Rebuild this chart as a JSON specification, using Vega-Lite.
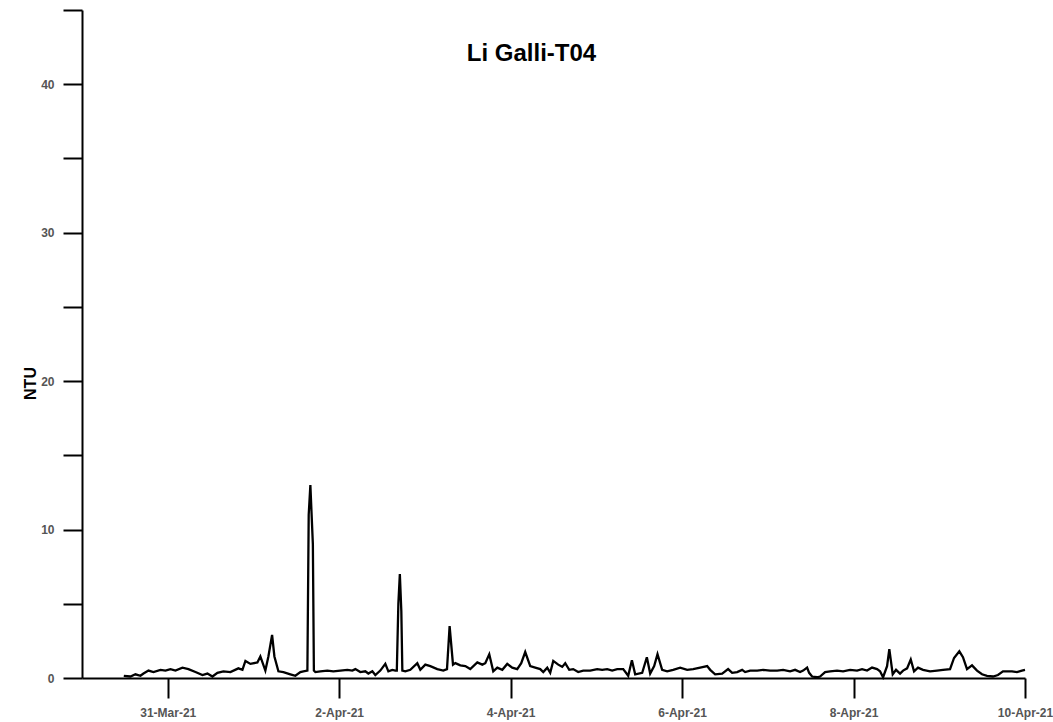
{
  "$schema": "https://vega.github.io/schema/vega-lite/v6.json",
  "width": 943,
  "height": 668,
  "autosize": {"type": "none"},
  "padding": {"left": 82, "top": 10, "right": 28, "bottom": 44},
  "background": "white",
  "config": {"view": {"stroke": null}},
  "title": {"text": "Li Galli-T04", "font": "Liberation Sans", "fontSize": 24, "fontWeight": "bold", "color": "#000", "anchor": "middle", "dx": -22, "baseline": "alphabetic", "offset": -76},
  "data": {"values": [
    {"t":"2021-03-30T11:42:00","v":0.15},{"t":"2021-03-30T13:34:00","v":0.1},{"t":"2021-03-30T14:58:00","v":0.25},{"t":"2021-03-30T16:22:00","v":0.15},{"t":"2021-03-30T17:13:00","v":0.3},{"t":"2021-03-30T18:37:00","v":0.5},{"t":"2021-03-30T20:00:00","v":0.4},{"t":"2021-03-30T21:58:00","v":0.55},{"t":"2021-03-30T23:22:00","v":0.5},
    {"t":"2021-03-31T00:46:00","v":0.6},{"t":"2021-03-31T02:10:00","v":0.5},{"t":"2021-03-31T04:07:00","v":0.7},{"t":"2021-03-31T05:48:00","v":0.6},{"t":"2021-03-31T07:46:00","v":0.4},{"t":"2021-03-31T09:43:00","v":0.2},{"t":"2021-03-31T11:07:00","v":0.3},{"t":"2021-03-31T12:31:00","v":0.1},{"t":"2021-03-31T13:55:00","v":0.35},{"t":"2021-03-31T15:35:00","v":0.45},{"t":"2021-03-31T17:33:00","v":0.4},{"t":"2021-03-31T19:47:00","v":0.65},{"t":"2021-03-31T20:55:00","v":0.55},{"t":"2021-03-31T21:45:00","v":1.15},{"t":"2021-03-31T23:09:00","v":0.95},
    {"t":"2021-04-01T01:06:00","v":1.05},{"t":"2021-04-01T01:56:00","v":1.45},{"t":"2021-04-01T03:20:00","v":0.5},{"t":"2021-04-01T04:11:00","v":1.45},{"t":"2021-04-01T05:13:00","v":2.9},{"t":"2021-04-01T05:52:00","v":1.45},{"t":"2021-04-01T06:59:00","v":0.45},{"t":"2021-04-01T08:23:00","v":0.4},{"t":"2021-04-01T10:20:00","v":0.25},{"t":"2021-04-01T11:44:00","v":0.15},{"t":"2021-04-01T13:08:00","v":0.4},{"t":"2021-04-01T13:59:00","v":0.45},{"t":"2021-04-01T15:06:00","v":0.5},{"t":"2021-04-01T15:28:00","v":11},{"t":"2021-04-01T15:56:00","v":13},{"t":"2021-04-01T16:38:00","v":9},{"t":"2021-04-01T16:55:00","v":0.5},{"t":"2021-04-01T17:20:00","v":0.4},{"t":"2021-04-01T18:44:00","v":0.45},{"t":"2021-04-01T20:41:00","v":0.5},{"t":"2021-04-01T22:22:00","v":0.45},
    {"t":"2021-04-02T00:20:00","v":0.5},{"t":"2021-04-02T02:17:00","v":0.55},{"t":"2021-04-02T03:41:00","v":0.5},{"t":"2021-04-02T04:32:00","v":0.6},{"t":"2021-04-02T05:55:00","v":0.4},{"t":"2021-04-02T07:19:00","v":0.45},{"t":"2021-04-02T08:10:00","v":0.3},{"t":"2021-04-02T09:17:00","v":0.45},{"t":"2021-04-02T10:07:00","v":0.2},{"t":"2021-04-02T11:31:00","v":0.5},{"t":"2021-04-02T12:55:00","v":0.95},{"t":"2021-04-02T13:46:00","v":0.45},{"t":"2021-04-02T14:53:00","v":0.55},{"t":"2021-04-02T15:43:00","v":0.5},{"t":"2021-04-02T16:08:00","v":0.5},{"t":"2021-04-02T16:34:00","v":5},{"t":"2021-04-02T16:59:00","v":7},{"t":"2021-04-02T17:24:00","v":4.5},{"t":"2021-04-02T17:41:00","v":0.5},{"t":"2021-04-02T18:31:00","v":0.45},{"t":"2021-04-02T19:55:00","v":0.55},{"t":"2021-04-02T21:52:00","v":1.0},{"t":"2021-04-02T22:43:00","v":0.55},
    {"t":"2021-04-03T00:07:00","v":0.9},{"t":"2021-04-03T01:31:00","v":0.8},{"t":"2021-04-03T03:28:00","v":0.6},{"t":"2021-04-03T05:09:00","v":0.5},{"t":"2021-04-03T06:11:00","v":0.6},{"t":"2021-04-03T06:55:00","v":3.5},{"t":"2021-04-03T07:52:00","v":0.9},{"t":"2021-04-03T08:31:00","v":1.0},{"t":"2021-04-03T09:55:00","v":0.85},{"t":"2021-04-03T11:19:00","v":0.8},{"t":"2021-04-03T12:42:00","v":0.6},{"t":"2021-04-03T14:40:00","v":1.05},{"t":"2021-04-03T16:04:00","v":0.9},{"t":"2021-04-03T16:54:00","v":1.0},{"t":"2021-04-03T18:01:00","v":1.6},{"t":"2021-04-03T19:08:00","v":0.45},{"t":"2021-04-03T20:16:00","v":0.7},{"t":"2021-04-03T21:40:00","v":0.55},{"t":"2021-04-03T23:03:00","v":0.95},
    {"t":"2021-04-04T00:27:00","v":0.7},{"t":"2021-04-04T01:51:00","v":0.6},{"t":"2021-04-04T02:58:00","v":1.0},{"t":"2021-04-04T04:05:00","v":1.75},{"t":"2021-04-04T05:29:00","v":0.8},{"t":"2021-04-04T06:53:00","v":0.7},{"t":"2021-04-04T08:17:00","v":0.6},{"t":"2021-04-04T09:08:00","v":0.4},{"t":"2021-04-04T10:15:00","v":0.7},{"t":"2021-04-04T11:05:00","v":0.35},{"t":"2021-04-04T11:56:00","v":1.15},{"t":"2021-04-04T13:20:00","v":0.9},{"t":"2021-04-04T14:26:00","v":0.75},{"t":"2021-04-04T15:17:00","v":1.0},{"t":"2021-04-04T16:24:00","v":0.55},{"t":"2021-04-04T17:31:00","v":0.6},{"t":"2021-04-04T18:55:00","v":0.4},{"t":"2021-04-04T20:19:00","v":0.5},{"t":"2021-04-04T22:17:00","v":0.5},
    {"t":"2021-04-05T00:14:00","v":0.6},{"t":"2021-04-05T01:38:00","v":0.55},{"t":"2021-04-05T03:02:00","v":0.6},{"t":"2021-04-05T04:26:00","v":0.5},{"t":"2021-04-05T05:50:00","v":0.6},{"t":"2021-04-05T07:31:00","v":0.6},{"t":"2021-04-05T08:55:00","v":0.15},{"t":"2021-04-05T09:57:00","v":1.2},{"t":"2021-04-05T10:52:00","v":0.25},{"t":"2021-04-05T12:50:00","v":0.35},{"t":"2021-04-05T14:08:00","v":1.4},{"t":"2021-04-05T15:04:00","v":0.3},{"t":"2021-04-05T16:11:00","v":0.8},{"t":"2021-04-05T17:07:00","v":1.6},{"t":"2021-04-05T18:25:00","v":0.55},{"t":"2021-04-05T19:49:00","v":0.45},{"t":"2021-04-05T21:30:00","v":0.55},{"t":"2021-04-05T23:28:00","v":0.7},
    {"t":"2021-04-06T01:25:00","v":0.55},{"t":"2021-04-06T03:06:00","v":0.6},{"t":"2021-04-06T05:04:00","v":0.7},{"t":"2021-04-06T07:01:00","v":0.8},{"t":"2021-04-06T07:52:00","v":0.55},{"t":"2021-04-06T09:15:00","v":0.25},{"t":"2021-04-06T11:13:00","v":0.3},{"t":"2021-04-06T12:53:00","v":0.6},{"t":"2021-04-06T14:01:00","v":0.35},{"t":"2021-04-06T15:25:00","v":0.4},{"t":"2021-04-06T16:49:00","v":0.55},{"t":"2021-04-06T17:39:00","v":0.4},{"t":"2021-04-06T19:03:00","v":0.5},{"t":"2021-04-06T21:01:00","v":0.5},{"t":"2021-04-06T22:41:00","v":0.55},
    {"t":"2021-04-07T00:39:00","v":0.5},{"t":"2021-04-07T02:37:00","v":0.5},{"t":"2021-04-07T04:17:00","v":0.55},{"t":"2021-04-07T06:14:00","v":0.45},{"t":"2021-04-07T07:38:00","v":0.55},{"t":"2021-04-07T09:02:00","v":0.4},{"t":"2021-04-07T09:53:00","v":0.5},{"t":"2021-04-07T11:00:00","v":0.7},{"t":"2021-04-07T11:34:00","v":0.35},{"t":"2021-04-07T12:24:00","v":0.1},{"t":"2021-04-07T13:48:00","v":0.05},{"t":"2021-04-07T14:38:00","v":0.1},{"t":"2021-04-07T16:02:00","v":0.4},{"t":"2021-04-07T17:26:00","v":0.45},{"t":"2021-04-07T19:23:00","v":0.5},{"t":"2021-04-07T21:04:00","v":0.45},{"t":"2021-04-07T23:02:00","v":0.55},
    {"t":"2021-04-08T00:59:00","v":0.5},{"t":"2021-04-08T02:23:00","v":0.6},{"t":"2021-04-08T03:47:00","v":0.5},{"t":"2021-04-08T05:11:00","v":0.7},{"t":"2021-04-08T06:35:00","v":0.6},{"t":"2021-04-08T07:25:00","v":0.45},{"t":"2021-04-08T08:16:00","v":0.05},{"t":"2021-04-08T09:23:00","v":0.8},{"t":"2021-04-08T10:01:00","v":1.95},{"t":"2021-04-08T10:58:00","v":0.25},{"t":"2021-04-08T11:54:00","v":0.55},{"t":"2021-04-08T13:01:00","v":0.3},{"t":"2021-04-08T13:52:00","v":0.5},{"t":"2021-04-08T14:59:00","v":0.65},{"t":"2021-04-08T16:01:00","v":1.25},{"t":"2021-04-08T16:56:00","v":0.45},{"t":"2021-04-08T18:03:00","v":0.7},{"t":"2021-04-08T19:27:00","v":0.55},{"t":"2021-04-08T21:25:00","v":0.45},{"t":"2021-04-08T23:22:00","v":0.5},
    {"t":"2021-04-09T01:03:00","v":0.55},{"t":"2021-04-09T03:01:00","v":0.6},{"t":"2021-04-09T04:08:00","v":1.35},{"t":"2021-04-09T05:37:00","v":1.8},{"t":"2021-04-09T06:38:00","v":1.4},{"t":"2021-04-09T07:46:00","v":0.6},{"t":"2021-04-09T09:10:00","v":0.85},{"t":"2021-04-09T10:34:00","v":0.5},{"t":"2021-04-09T11:58:00","v":0.25},{"t":"2021-04-09T13:22:00","v":0.15},{"t":"2021-04-09T15:02:00","v":0.1},{"t":"2021-04-09T16:26:00","v":0.2},{"t":"2021-04-09T17:50:00","v":0.45},{"t":"2021-04-09T20:21:00","v":0.45},{"t":"2021-04-09T21:45:00","v":0.4},{"t":"2021-04-09T23:09:00","v":0.5},
    {"t":"2021-04-10T00:00:00","v":0.55}
  ]},
  "mark": {"type": "line", "color": "black", "strokeWidth": 2.3, "strokeJoin": "miter", "clip": false},
  "encoding": {
    "x": {
      "field": "t", "type": "temporal",
      "scale": {"domain": [{"year": 2021, "month": "mar", "date": 30}, {"year": 2021, "month": "apr", "date": 10}], "nice": false},
      "axis": {
        "title": null, "grid": false, "format": "%-d-%b-%y",
        "values": [{"year": 2021, "month": "mar", "date": 31}, {"year": 2021, "month": "apr", "date": 2}, {"year": 2021, "month": "apr", "date": 4}, {"year": 2021, "month": "apr", "date": 6}, {"year": 2021, "month": "apr", "date": 8}, {"year": 2021, "month": "apr", "date": 10}],
        "domainColor": "black", "domainWidth": 2, "tickColor": "black", "tickWidth": 2, "tickSize": 20,
        "labelFont": "Liberation Sans", "labelFontSize": 12, "labelFontWeight": "bold", "labelColor": "#555", "labelPadding": 9, "labelOverlap": false, "labelFlush": false
      }
    },
    "y": {
      "field": "v", "type": "quantitative",
      "scale": {"domain": [0, 45], "nice": false},
      "axis": {
        "title": "NTU", "grid": false,
        "values": [0, 5, 10, 15, 20, 25, 30, 35, 40, 45],
        "labelExpr": "datum.value % 10 === 0 ? datum.label : ''",
        "domainColor": "black", "domainWidth": 2, "tickColor": "black", "tickWidth": 2, "tickSize": 19,
        "labelFont": "Liberation Sans", "labelFontSize": 12, "labelFontWeight": "bold", "labelColor": "#555", "labelPadding": 9,
        "titleFont": "Liberation Sans", "titleFontSize": 16, "titleFontWeight": "bold", "titleColor": "#000",
        "titleAngle": 270, "titleAlign": "center", "titleBaseline": "middle", "titleX": -52, "titleY": 373
      }
    }
  }
}
